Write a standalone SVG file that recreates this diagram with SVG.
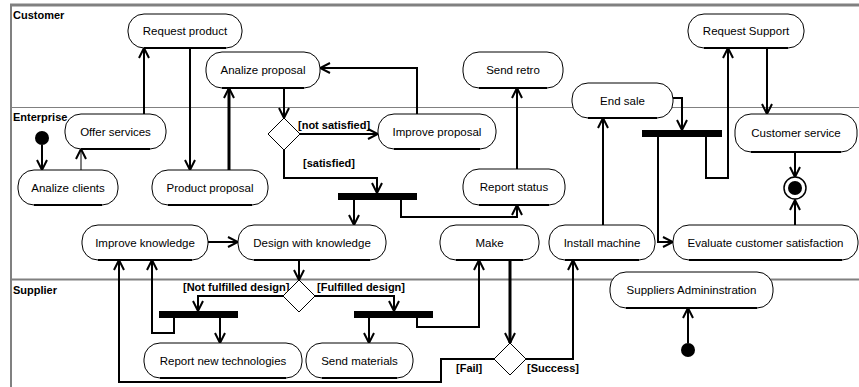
<svg xmlns="http://www.w3.org/2000/svg" width="859" height="387" viewBox="0 0 859 387">
<style>
.node rect{fill:#fff;stroke:#000;stroke-width:1}
.node line{stroke:#000;stroke-width:2}
.node text{font-family:"Liberation Sans",Arial,sans-serif;font-size:11.5px;fill:#000;text-anchor:middle}
.lane{font-family:"Liberation Sans",Arial,sans-serif;font-size:11px;font-weight:bold;fill:#000}
.guard{font-family:"Liberation Sans",Arial,sans-serif;font-size:11px;font-weight:bold;fill:#000}
.bar{fill:#000}
.dia{fill:#fff;stroke:#000;stroke-width:1}
#connectors path{fill:none;stroke:#000;stroke-width:2;marker-end:url(#arr)}
</style>
<defs>
<marker id="arr" viewBox="0 0 12 12" refX="11" refY="6" markerWidth="12" markerHeight="12" markerUnits="userSpaceOnUse" orient="auto">
<path d="M1,1 L11,6 L1,11" fill="none" stroke="#000" stroke-width="2"/>
</marker>
</defs>
<rect x="0" y="0" width="859" height="387" fill="#fff"/>
<g id="frame" stroke="#808080">
<line x1="10" y1="5" x2="859" y2="5" stroke-width="3"/>
<line x1="11" y1="4" x2="11" y2="387" stroke-width="2"/>
<line x1="11" y1="107.5" x2="859" y2="107.5" stroke-width="1"/>
<line x1="11" y1="279.5" x2="859" y2="279.5" stroke-width="2"/>
</g>
<text class="lane" x="13" y="19">Customer</text>
<text class="lane" x="13" y="121">Enterprise</text>
<text class="lane" x="13" y="294">Supplier</text>

<g id="connectors">
<path d="M144,114 V48"/>
<path d="M190,48 V170"/>
<path d="M229,170 V88" style="stroke-width:3"/>
<path d="M284,88 V118"/>
<path d="M300,134 H378"/>
<path d="M417,114 V68 H320"/>
<path d="M284,150 V178 H377 V193"/>
<path d="M354,200 V225"/>
<path d="M401,200 V217 H517 V205"/>
<path d="M517,169 V88"/>
<path d="M81,170 V149" style="stroke-width:1"/>
<path d="M42,145 V170"/>
<path d="M208,242 H238"/>
<path d="M299,260 V280"/>
<path d="M283,296 H198 V311"/>
<path d="M315,296 H394 V311"/>
<path d="M220,318 V343"/>
<path d="M174,318 V333 H152 V260"/>
<path d="M369,318 V343"/>
<path d="M417,318 V327 H479 V260"/>
<path d="M510,260 V343" style="stroke-width:3"/>
<path d="M494,359 H441 V382 H119 V260"/>
<path d="M526,359 H573 V260"/>
<path d="M603,225 V118"/>
<path d="M673,98 H682 V130"/>
<path d="M658,137 V242 H673"/>
<path d="M706,137 V178 H728 V48"/>
<path d="M767,48 V114"/>
<path d="M795,152 V177"/>
<path d="M795,225 V200"/>
<path d="M688,343 V308"/>
</g>

<text class="guard" x="298" y="129">[not satisfied]</text>
<text class="guard" x="303" y="167">[satisfied]</text>
<text class="guard" x="183" y="291">[Not fulfilled design]</text>
<text class="guard" x="317" y="291">[Fulfilled design]</text>
<text class="guard" x="456" y="372">[Fail]</text>
<text class="guard" x="527" y="372">[Success]</text>

<g id="start_enterprise"><circle cx="42" cy="138" r="7" fill="#000"/></g>
<g id="start_supplier"><circle cx="688" cy="350" r="7" fill="#000"/></g>
<g id="final"><circle cx="795" cy="188" r="11" fill="#fff" stroke="#000" stroke-width="1.5"/><circle cx="795" cy="188" r="7" fill="#000"/></g>

<g id="decision_proposal"><polygon class="dia" points="284,118 300,134 284,150 268,134"/></g>
<g id="decision_design"><polygon class="dia" points="299,280 315,296 299,312 283,296"/></g>
<g id="decision_make"><polygon class="dia" points="510,343 526,359 510,375 494,359"/></g>

<g id="fork_satisfied"><rect class="bar" x="338" y="193" width="79" height="7"/></g>
<g id="fork_endsale"><rect class="bar" x="642" y="130" width="80" height="7"/></g>
<g id="fork_notfulfilled"><rect class="bar" x="159" y="311" width="79" height="7"/></g>
<g id="fork_fulfilled"><rect class="bar" x="354" y="311" width="79" height="7"/></g>

<g id="request_product" class="node"><rect x="128" y="14" width="114" height="34" rx="16"/><line x1="144" y1="48" x2="226" y2="48"/><text x="185" y="35">Request product</text></g>
<g id="analize_proposal" class="node"><rect x="206" y="52" width="114" height="36" rx="16"/><line x1="222" y1="88" x2="304" y2="88"/><text x="263" y="74">Analize proposal</text></g>
<g id="send_retro" class="node"><rect x="463" y="52" width="100" height="36" rx="16"/><line x1="479" y1="88" x2="547" y2="88"/><text x="513" y="74">Send retro</text></g>
<g id="request_support" class="node"><rect x="688" y="14" width="116" height="34" rx="16"/><line x1="704" y1="48" x2="788" y2="48"/><text x="746" y="35">Request Support</text></g>
<g id="end_sale" class="node"><rect x="572" y="83" width="101" height="35" rx="16"/><line x1="588" y1="118" x2="657" y2="118"/><text x="622.5" y="104.5">End sale</text></g>
<g id="customer_service" class="node"><rect x="735" y="114" width="122" height="38" rx="16"/><line x1="751" y1="152" x2="841" y2="152"/><text x="796" y="137">Customer service</text></g>
<g id="offer_services" class="node"><rect x="65" y="114" width="101" height="35" rx="16"/><line x1="81" y1="149" x2="150" y2="149"/><text x="115.5" y="135.5">Offer services</text></g>
<g id="analize_clients" class="node"><rect x="18" y="170" width="100" height="35" rx="16"/><line x1="34" y1="205" x2="102" y2="205"/><text x="68" y="191.5">Analize clients</text></g>
<g id="product_proposal" class="node"><rect x="152" y="170" width="116" height="35" rx="16"/><line x1="168" y1="205" x2="252" y2="205"/><text x="210" y="191.5">Product proposal</text></g>
<g id="improve_proposal" class="node"><rect x="378" y="114" width="118" height="35" rx="16"/><line x1="394" y1="149" x2="480" y2="149"/><text x="437" y="135.5">Improve proposal</text></g>
<g id="report_status" class="node"><rect x="463" y="169" width="102" height="36" rx="16"/><line x1="479" y1="205" x2="549" y2="205"/><text x="514" y="191">Report status</text></g>
<g id="improve_knowledge" class="node"><rect x="82" y="225" width="126" height="35" rx="16"/><line x1="98" y1="260" x2="192" y2="260"/><text x="145" y="246.5">Improve knowledge</text></g>
<g id="design_knowledge" class="node"><rect x="238" y="225" width="148" height="35" rx="16"/><line x1="254" y1="260" x2="370" y2="260"/><text x="312" y="246.5">Design with knowledge</text></g>
<g id="make" class="node"><rect x="440" y="225" width="99" height="35" rx="16"/><line x1="456" y1="260" x2="523" y2="260"/><text x="489.5" y="246.5">Make</text></g>
<g id="install_machine" class="node"><rect x="549" y="225" width="106" height="35" rx="16"/><line x1="565" y1="260" x2="639" y2="260"/><text x="602" y="246.5">Install machine</text></g>
<g id="evaluate_satisfaction" class="node"><rect x="673" y="225" width="185" height="35" rx="16"/><line x1="689" y1="260" x2="842" y2="260"/><text x="765.5" y="246.5">Evaluate customer satisfaction</text></g>
<g id="suppliers_admin" class="node"><rect x="610" y="272" width="163" height="36" rx="16"/><line x1="626" y1="308" x2="757" y2="308"/><text x="691.5" y="294">Suppliers Admininstration</text></g>
<g id="report_new_tech" class="node"><rect x="144" y="343" width="158" height="35" rx="16"/><line x1="160" y1="378" x2="286" y2="378"/><text x="223" y="364.5">Report new technologies</text></g>
<g id="send_materials" class="node"><rect x="306" y="343" width="107" height="35" rx="16"/><line x1="322" y1="378" x2="397" y2="378"/><text x="359.5" y="364.5">Send materials</text></g>
</svg>
